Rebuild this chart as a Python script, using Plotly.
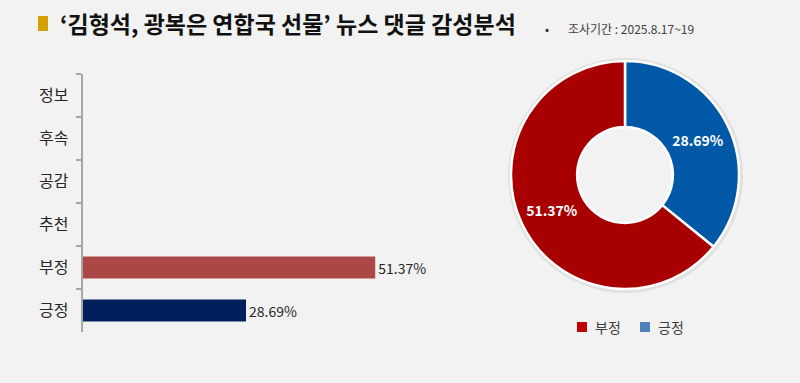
import plotly.graph_objects as go

W, H = 800, 383
categories = ["정보", "후속", "공감", "추천", "부정", "긍정"]
values = [0, 0, 0, 0, 51.37, 28.69]
bar_colors = ["#ab4745", "#ab4745", "#ab4745", "#ab4745", "#ab4745", "#00205c"]

pie_labels = ["긍정", "부정"]
pie_values = [28.69, 51.37]
pie_colors = ["#0058a6", "#a80000"]
legend_names = ["부정", "긍정"]
legend_colors = ["#c00000", "#4f81bd"]

title = "‘김형석, 광복은 연합국 선물’ 뉴스 댓글 감성분석"
subtitle = "조사기간 : 2025.8.17~19"

FONT = "Noto Sans CJK KR"

def px(x):
    return x / W

def py(y):
    return 1 - y / H

fig = go.Figure()

fig.add_trace(go.Bar(
    y=categories, x=values, orientation="h",
    marker=dict(color=bar_colors, line=dict(width=0)),
    width=0.51,
    text=[f"{v:.2f}%" if v > 0 else "" for v in values],
    textposition="outside",
    textfont=dict(family=FONT, size=14, color="#262626"),
    cliponaxis=False, showlegend=False, hoverinfo="skip",
))

fig.add_trace(go.Pie(
    labels=pie_labels, values=pie_values, sort=False, direction="clockwise",
    rotation=0, hole=0.42,
    marker=dict(colors=pie_colors, line=dict(color="white", width=2.5)),
    texttemplate=[f"{v:.2f}%" for v in pie_values],
    textposition="inside", insidetextorientation="horizontal",
    textfont=dict(family=FONT, size=14, color="white", weight="bold"),
    domain=dict(x=[px(511), px(739)], y=[py(289), py(61)]),
    showlegend=False, hoverinfo="skip",
))

cx, cy = 625, 175
shapes = [
    dict(type="rect", xref="paper", yref="paper", x0=px(38), x1=px(48), y0=py(31), y1=py(16),
         fillcolor="#d4a000", line=dict(width=0)),
    dict(type="circle", xref="paper", yref="paper", layer="below",
         x0=px(cx - 117), x1=px(cx + 118), y0=py(cy + 118), y1=py(cy - 117),
         fillcolor="rgba(0,0,0,0.07)", line=dict(width=0)),
    dict(type="circle", xref="paper", yref="paper", layer="below",
         x0=px(cx - 52), x1=px(cx + 52), y0=py(cy + 52), y1=py(cy - 52),
         fillcolor="#f2f2f2", line=dict(width=0)),
]
annotations = [
    dict(text=f"<b>{title}</b>", xref="paper", yref="paper", x=px(58), y=py(23),
         xanchor="left", yanchor="middle", showarrow=False,
         font=dict(family=FONT, size=23, color="#111111")),
    dict(text="•", xref="paper", yref="paper", x=px(547), y=py(28),
         xanchor="center", yanchor="middle", showarrow=False,
         font=dict(family=FONT, size=12, color="#333333")),
    dict(text=subtitle, xref="paper", yref="paper", x=px(566), y=py(28),
         xanchor="left", yanchor="middle", showarrow=False,
         font=dict(family=FONT, size=12, color="#404040")),
]
leg_x = [577, 640]
for name, col, x0 in zip(legend_names, legend_colors, leg_x):
    shapes.append(dict(type="rect", xref="paper", yref="paper", x0=px(x0), x1=px(x0 + 10),
                       y0=py(332), y1=py(322), fillcolor=col, line=dict(width=0)))
    annotations.append(dict(text=name, xref="paper", yref="paper", x=px(x0 + 16), y=py(327),
                            xanchor="left", yanchor="middle", showarrow=False,
                            font=dict(family=FONT, size=14, color="#404040")))

fig.update_layout(
    width=W, height=H, margin=dict(l=0, r=0, t=0, b=0),
    paper_bgcolor="#f2f2f2", plot_bgcolor="#f2f2f2",
    font=dict(family=FONT, color="#262626"),
    showlegend=False,
    xaxis=dict(domain=[px(82.5), px(470)], range=[0, 68.0], visible=False, fixedrange=True),
    yaxis=dict(domain=[py(332), py(74)], categoryorder="array", categoryarray=categories,
               autorange="reversed", showline=True, linecolor="#a6a6a6", linewidth=1.5,
               ticks="outside", ticklen=5, tickcolor="#a6a6a6", tickwidth=1.5,
               tickson="boundaries", showgrid=False, zeroline=False,
               tickfont=dict(family=FONT, size=16, color="#262626"), ticklabelstandoff=9),
    shapes=shapes,
    annotations=annotations,
)

fig.write_html("out.html", config={"displayModeBar": False},
               post_script="document.body.style.margin='0';document.body.style.background='#f2f2f2';")
